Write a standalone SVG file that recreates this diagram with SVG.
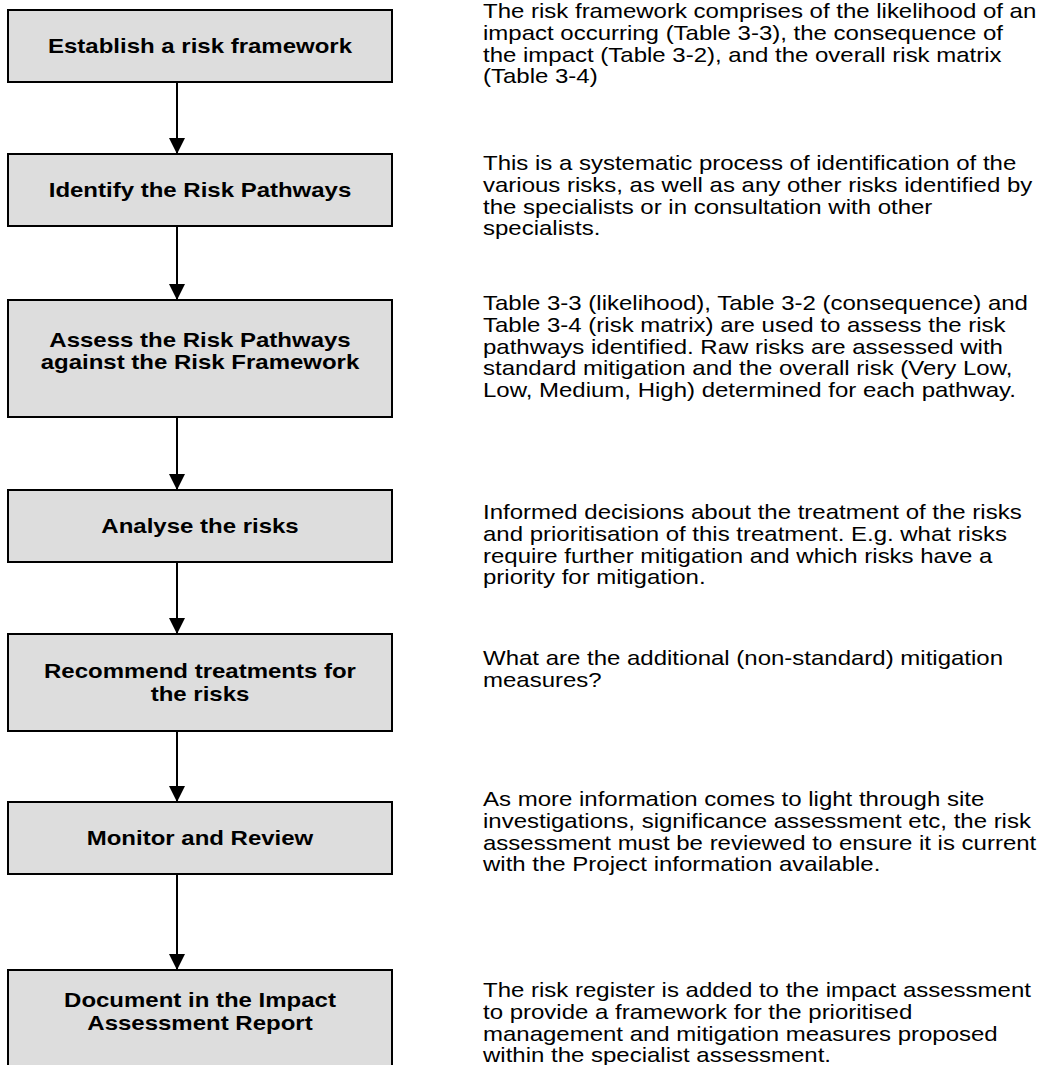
<svg xmlns="http://www.w3.org/2000/svg" width="1044" height="1065" viewBox="0 0 1044 1065">
<defs>
<style>
.box{fill:#dddddd;stroke:#000;stroke-width:2}
.bt{font-family:"Liberation Sans",Arial,sans-serif;font-weight:bold;font-size:20px;fill:#000;text-anchor:middle}
.dt{font-family:"Liberation Sans",Arial,sans-serif;font-size:20px;fill:#000}
.con{stroke:#000;stroke-width:2;fill:none}
</style>
<marker id="ah" markerWidth="16" markerHeight="16" viewBox="0 0 16 16" refX="16" refY="8" orient="auto" markerUnits="userSpaceOnUse">
<path d="M0,0 L16,8 L0,16 Z" fill="#000"/>
</marker>
</defs>
<rect width="1044" height="1065" fill="#fff"/>
<g id="connectors">
<line class="con" x1="177" y1="82" x2="177" y2="154" marker-end="url(#ah)"/>
<line class="con" x1="177" y1="226" x2="177" y2="300" marker-end="url(#ah)"/>
<line class="con" x1="177" y1="417" x2="177" y2="490" marker-end="url(#ah)"/>
<line class="con" x1="177" y1="562" x2="177" y2="634" marker-end="url(#ah)"/>
<line class="con" x1="177" y1="731" x2="177" y2="802" marker-end="url(#ah)"/>
<line class="con" x1="177" y1="874" x2="177" y2="970" marker-end="url(#ah)"/>
</g>
<g id="n1"><rect class="box" x="8" y="10" width="384" height="72"/><text class="bt" transform="translate(200,53) scale(1.2,1)">Establish a risk framework</text></g>
<g id="n2"><rect class="box" x="8" y="154" width="384" height="72"/><text class="bt" transform="translate(200,197) scale(1.2,1)">Identify the Risk Pathways</text></g>
<g id="n3"><rect class="box" x="8" y="300" width="384" height="117"/><text class="bt" transform="translate(200,347) scale(1.2,1)">Assess the Risk Pathways<tspan x="0" dy="22.5">against the Risk Framework</tspan></text></g>
<g id="n4"><rect class="box" x="8" y="490" width="384" height="72"/><text class="bt" transform="translate(200,533) scale(1.2,1)">Analyse the risks</text></g>
<g id="n5"><rect class="box" x="8" y="634" width="384" height="97"/><text class="bt" transform="translate(200,678) scale(1.2,1)">Recommend treatments for<tspan x="0" dy="23">the risks</tspan></text></g>
<g id="n6"><rect class="box" x="8" y="802" width="384" height="72"/><text class="bt" transform="translate(200,845) scale(1.2,1)">Monitor and Review</text></g>
<g id="n7"><rect class="box" x="8" y="970" width="384" height="110"/><text class="bt" transform="translate(200,1007) scale(1.2,1)">Document in the Impact<tspan x="0" dy="23">Assessment Report</tspan></text></g>
<g id="descriptions">
<text class="dt" transform="translate(483,18) scale(1.2,1)">The risk framework comprises of the likelihood of an<tspan x="0" dy="21.8">impact occurring (Table 3-3), the consequence of</tspan><tspan x="0" dy="21.8">the impact (Table 3-2), and the overall risk matrix</tspan><tspan x="0" dy="21.8">(Table 3-4)</tspan></text>
<text class="dt" transform="translate(483,170) scale(1.2,1)">This is a systematic process of identification of the<tspan x="0" dy="21.8">various risks, as well as any other risks identified by</tspan><tspan x="0" dy="21.8">the specialists or in consultation with other</tspan><tspan x="0" dy="21.8">specialists.</tspan></text>
<text class="dt" transform="translate(483,310) scale(1.2,1)">Table 3-3 (likelihood), Table 3-2 (consequence) and<tspan x="0" dy="21.8">Table 3-4 (risk matrix) are used to assess the risk</tspan><tspan x="0" dy="21.8">pathways identified. Raw risks are assessed with</tspan><tspan x="0" dy="21.8">standard mitigation and the overall risk (Very Low,</tspan><tspan x="0" dy="21.8">Low, Medium, High) determined for each pathway.</tspan></text>
<text class="dt" transform="translate(483,519) scale(1.2,1)">Informed decisions about the treatment of the risks<tspan x="0" dy="21.8">and prioritisation of this treatment. E.g. what risks</tspan><tspan x="0" dy="21.8">require further mitigation and which risks have a</tspan><tspan x="0" dy="21.8">priority for mitigation.</tspan></text>
<text class="dt" transform="translate(483,665) scale(1.2,1)">What are the additional (non-standard) mitigation<tspan x="0" dy="21.8">measures?</tspan></text>
<text class="dt" transform="translate(483,806) scale(1.2,1)">As more information comes to light through site<tspan x="0" dy="21.8">investigations, significance assessment etc, the risk</tspan><tspan x="0" dy="21.8">assessment must be reviewed to ensure it is current</tspan><tspan x="0" dy="21.8">with the Project information available.</tspan></text>
<text class="dt" transform="translate(483,997) scale(1.2,1)">The risk register is added to the impact assessment<tspan x="0" dy="21.8">to provide a framework for the prioritised</tspan><tspan x="0" dy="21.8">management and mitigation measures proposed</tspan><tspan x="0" dy="21.8">within the specialist assessment.</tspan></text>
</g>
</svg>
